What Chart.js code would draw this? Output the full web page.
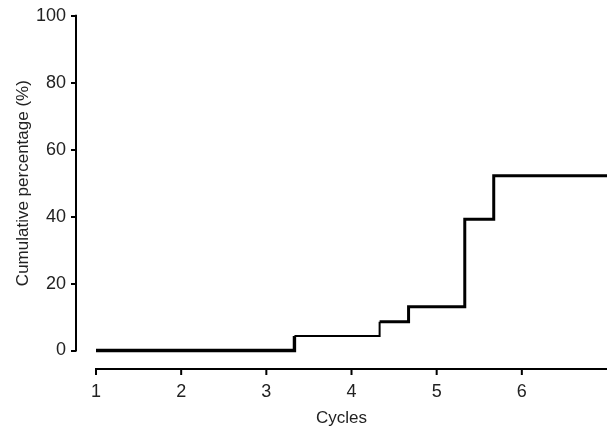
<!DOCTYPE html>
<html>
<head>
<meta charset="utf-8">
<script src="https://cdn.jsdelivr.net/npm/chart.js@4"></script>
<style>
  body { margin: 0; background: #fff; }
  #wrap { width: 614px; height: 427px; position: relative; }
</style>
</head>
<body>
<div id="wrap"><canvas id="chartCanvas"></canvas></div>
<script>
// step points (cycle, cumulative % after the event)
const cycles = [1, 3.33, 4.33, 4.67, 5.33, 5.67, 7];
const cumPercent = [0, 4.3, 8.6, 13.1, 39.2, 52.2, 52.2];
const segWidths = [3.4, 2, 3, 3, 3, 3, 2.4];
const xTicks = [1, 2, 3, 4, 5, 6];
const yTicks = [0, 20, 40, 60, 80, 100];

const points = cycles.map((c, i) => ({ x: c, y: cumPercent[i] }));

const X_GAP = 18.5;   // x axis sits below the y=0 line
const X_TICK = 6;

// axis lines only over the data range (offset axes)
const axisLines = {
  id: 'axisLines',
  afterDraw(chart) {
    const ctx = chart.ctx;
    const x = chart.scales.x, y = chart.scales.y;
    const xAxisY = chart.chartArea.bottom + X_GAP;
    ctx.save();
    ctx.strokeStyle = '#000';
    ctx.lineWidth = 2;
    ctx.beginPath();
    ctx.moveTo(chart.chartArea.left, y.getPixelForValue(0) + 1);
    ctx.lineTo(chart.chartArea.left, y.getPixelForValue(100) - 1);
    ctx.moveTo(x.getPixelForValue(1) - 1, xAxisY);
    ctx.lineTo(x.getPixelForValue(7), xAxisY);
    xTicks.forEach(v => {
      const px = x.getPixelForValue(v);
      ctx.moveTo(px, xAxisY);
      ctx.lineTo(px, xAxisY + X_TICK);
    });
    ctx.stroke();
    ctx.restore();
  }
};

const tickFont = { family: 'Liberation Sans, Arial, sans-serif', size: 18 };
const titleFont = { family: 'Liberation Sans, Arial, sans-serif', size: 17, lineHeight: 1 };

new Chart(document.getElementById('chartCanvas'), {
  type: 'line',
  data: {
    datasets: [{
      data: points,
      borderColor: '#000',
      borderWidth: 3,
      stepped: true,
      pointRadius: 0,
      fill: false,
      clip: 8,
      segment: {
        borderWidth: ctx => segWidths[ctx.p0DataIndex]
      }
    }]
  },
  options: {
    responsive: true,
    maintainAspectRatio: false,
    animation: false,
    layout: { padding: { top: 15, right: 7, left: 0, bottom: 0 } },
    plugins: { legend: { display: false }, tooltip: { enabled: false } },
    scales: {
      x: {
        type: 'linear',
        min: 0.765,
        max: 7,
        afterBuildTicks: s => { s.ticks = xTicks.map(v => ({ value: v })); },
        afterFit: s => { s.height = 76.5; },
        border: { display: false },
        grid: { drawOnChartArea: false, drawTicks: true, tickLength: X_GAP + X_TICK, color: 'rgba(0,0,0,0)' },
        ticks: { color: '#222', font: tickFont, padding: 6 },
        title: { display: true, text: 'Cycles', color: '#222', font: titleFont, padding: 0 }
      },
      y: {
        min: 0,
        max: 100,
        afterBuildTicks: s => { s.ticks = yTicks.map(v => ({ value: v })); },
        afterFit: s => { s.width = 76; },
        border: { display: false },
        grid: { drawOnChartArea: false, drawTicks: true, tickLength: 5, color: '#000', lineWidth: 2 },
        ticks: { color: '#222', font: tickFont, padding: 5 },
        title: { display: true, text: 'Cumulative percentage (%)', color: '#222', font: titleFont, padding: 15 }
      }
    }
  },
  plugins: [axisLines]
});
</script>
</body>
</html>
